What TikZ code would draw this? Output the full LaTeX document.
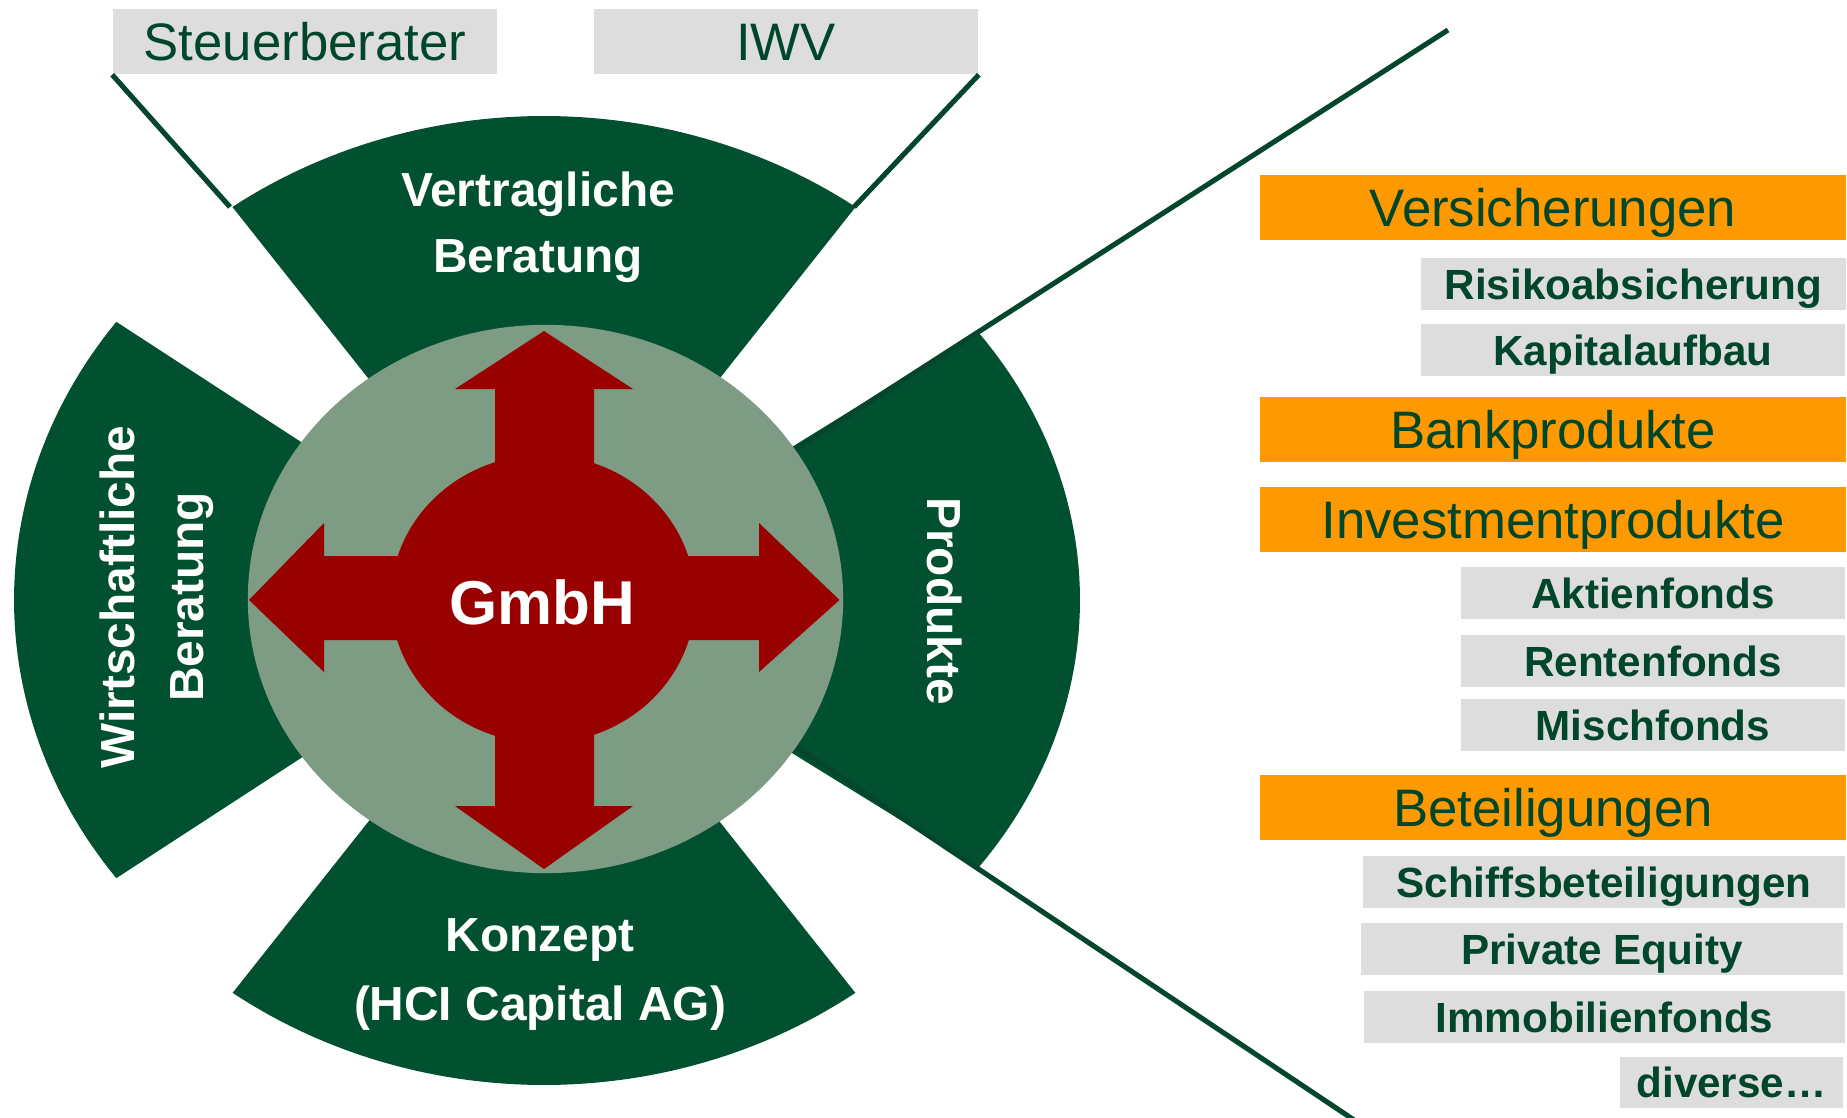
\documentclass[tikz,border=0pt]{standalone}
\usepackage{fontspec}
\setmainfont{Liberation Sans}
\definecolor{dkgreen}{RGB}{1,80,48}
\definecolor{txtgreen}{RGB}{0,70,42}
\definecolor{lngreen}{RGB}{4,70,44}
\definecolor{sage}{RGB}{126,155,131}
\definecolor{dkred}{RGB}{153,0,0}
\definecolor{orng}{RGB}{255,153,0}
\definecolor{lgrey}{RGB}{221,221,221}
\begin{document}
\begin{tikzpicture}[x=0.01cm,y=-0.01cm,
  sector/.style={fill=dkgreen},
  conn/.style={draw=lngreen, line width=1.45pt},
  lbl/.style={text=white, inner sep=0pt, align=center, font=\bfseries\fontsize{13.6pt}{18.8pt}\selectfont},
  obox/.style={fill=orng, text=txtgreen, inner sep=0pt, minimum width=5.86cm, minimum height=0.65cm, text height=10.7pt, text depth=0pt, font=\fontsize{15pt}{18pt}\selectfont},
  gbox/.style={fill=lgrey, text=txtgreen, inner sep=0pt, minimum height=0.52cm, text height=8.6pt, text depth=0pt, font=\bfseries\fontsize{12pt}{14pt}\selectfont},
  hbox/.style={fill=lgrey, text=txtgreen, inner sep=0pt, minimum width=3.84cm, minimum height=0.65cm, text height=10.7pt, text depth=0pt, font=\fontsize{15pt}{18pt}\selectfont},
]
\useasboundingbox (0,0) rectangle (1847,1118);
\fill[white] (0,0) rectangle (1847,1118);

% header boxes
\node[hbox] (steuer) at (305,41.5) {Steuerberater};
\node[hbox] (iwv) at (786,41.5) {IWV};

% sectors
\fill[sector] (544,600) -- plot[domain=54.3:125.7,samples=60] ({544+534*cos(\x)},{600-484*sin(\x)}) -- cycle;
\fill[sector] (544,600) -- plot[domain=234.1:305.9,samples=60] ({544+531*cos(\x)},{600-485*sin(\x)}) -- cycle;
\fill[sector] (544,600) -- plot[domain=143.8:216.2,samples=60] ({544+530*cos(\x)},{600-471*sin(\x)}) -- cycle;
\fill[sector] (544,600) -- plot[domain=-35.9:35.9,samples=60] ({544+536*cos(\x)},{600-457*sin(\x)}) -- cycle;

% connector lines
\coordinate (tlc) at (230,207);
\coordinate (trc) at (854,207);
\coordinate (rtEnd) at (1448,30);
\coordinate (rtIn) at (790,453);
\coordinate (rbEnd) at (1360,1124);
\coordinate (rbIn) at (790,743);
\draw[conn] (steuer.south west) -- (tlc);
\draw[conn] (iwv.south east) -- (trc);
\draw[conn] (rtEnd) -- (rtIn);
\draw[conn] (rbEnd) -- (rbIn);

% grey disc
\fill[sage] (545.5,599) ellipse [x radius=2.975cm, y radius=2.74cm];

% red cross
\fill[dkred] (543,599) ellipse [x radius=1.52cm, y radius=1.44cm];
\fill[dkred] (544,331) -- (633,389) -- (594,389) -- (594,806) -- (633,806) -- (544,869)
  -- (455,806) -- (495,806) -- (495,389) -- (455,389) -- cycle;
\fill[dkred] (249,600) -- (324,523) -- (324,556) -- (759,556) -- (759,523) -- (839.5,600)
  -- (759,672) -- (759,640) -- (324,640) -- (324,672) -- cycle;

% labels
\node[lbl] (vb) at (538,227.5) {Vertragliche\\Beratung};
\node[lbl, font=\bfseries\fontsize{13.6pt}{19.6pt}\selectfont] (kz) at (540,974.5) {Konzept\\(HCI Capital AG)};
\node[lbl, rotate=90, font=\bfseries\fontsize{13.6pt}{19.6pt}\selectfont] (wb) at (157,597) {Wirtschaftliche\\Beratung};
\node[lbl, rotate=-90] (prod) at (944.5,601) {Produkte};
\node[lbl, font=\bfseries\fontsize{17.6pt}{20pt}\selectfont] (gmbh) at (542,602) {GmbH};

% right column
\node[obox] (vers) at (1553,207.5) {Versicherungen};
\node[gbox, minimum width=4.25cm] (risk) at (1633.5,284) {Risikoabsicherung};
\node[gbox, minimum width=4.24cm] (kap) at (1633,350) {Kapitalaufbau};
\node[obox] (bank) at (1553,429.5) {Bankprodukte};
\node[obox] (inv) at (1553,519.5) {Investmentprodukte};
\node[gbox, minimum width=3.84cm] (akt) at (1653,593) {Aktienfonds};
\node[gbox, minimum width=3.84cm] (rent) at (1653,661) {Rentenfonds};
\node[gbox, minimum width=3.84cm] (misch) at (1653,725) {Mischfonds};
\node[obox] (bet) at (1553,807.5) {Beteiligungen};
\node[gbox, minimum width=4.82cm] (schiff) at (1604,882) {Schiffsbeteiligungen};
\node[gbox, minimum width=4.82cm] (pe) at (1602,949) {Private Equity};
\node[gbox, minimum width=4.81cm] (immo) at (1604.5,1017) {Immobilienfonds};
\node[gbox, minimum width=2.23cm, minimum height=0.51cm] (div) at (1731.5,1082.5) {diverse…};
\end{tikzpicture}
\end{document}
